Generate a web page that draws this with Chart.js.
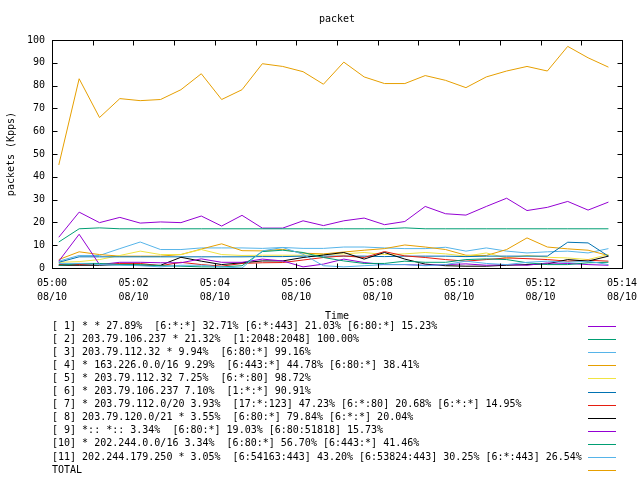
<!DOCTYPE html>
<html><head><meta charset="utf-8">
<script src="https://cdn.jsdelivr.net/npm/chart.js@4/dist/chart.umd.min.js"></script>
<style>html,body{margin:0;padding:0;background:#fff}</style>
</head><body>
<canvas id="c" width="640" height="480" style="width:640px;height:480px;display:block"></canvas>
<script>
// ---- data ----
const sampleTimes = ["05:00:10","05:00:40","05:01:10","05:01:40","05:02:10","05:02:40","05:03:10","05:03:40","05:04:10","05:04:40",
  "05:05:10","05:05:40","05:06:10","05:06:40","05:07:10","05:07:40","05:08:10","05:08:40","05:09:10","05:09:40",
  "05:10:10","05:10:40","05:11:10","05:11:40","05:12:10","05:12:40","05:13:10","05:13:40"];
const seriesNames = [
  "[ 1] * * 27.89%  [6:*:*] 32.71% [6:*:443] 21.03% [6:80:*] 15.23%",
  "[ 2] 203.79.106.237 * 21.32%  [1:2048:2048] 100.00%",
  "[ 3] 203.79.112.32 * 9.94%  [6:80:*] 99.16%",
  "[ 4] * 163.226.0.0/16 9.29%  [6:443:*] 44.78% [6:80:*] 38.41%",
  "[ 5] * 203.79.112.32 7.25%  [6:*:80] 98.72%",
  "[ 6] * 203.79.106.237 7.10%  [1:*:*] 90.91%",
  "[ 7] * 203.79.112.0/20 3.93%  [17:*:123] 47.23% [6:*:80] 20.68% [6:*:*] 14.95%",
  "[ 8] 203.79.120.0/21 * 3.55%  [6:80:*] 79.84% [6:*:*] 20.04%",
  "[ 9] *:: *:: 3.34%  [6:80:*] 19.03% [6:80:51818] 15.73%",
  "[10] * 202.244.0.0/16 3.34%  [6:80:*] 56.70% [6:443:*] 41.46%",
  "[11] 202.244.179.250 * 3.05%  [6:54163:443] 43.20% [6:53824:443] 30.25% [6:*:443] 26.54%",
  "TOTAL"
];
const s01 = [13.5,24.5,19.9,22.2,19.7,20.2,19.9,22.8,18.4,23.1,17.5,17.5,20.7,18.6,20.7,21.9,19.0,20.4,27.0,23.8,23.2,27.0,30.6,25.2,26.6,29.2,25.4,28.9];
const s02 = [11.4,17.2,17.6,17.2,17.2,17.2,17.2,17.2,17.2,17.2,17.2,17.2,17.2,17.2,17.2,17.2,17.2,17.6,17.2,17.2,17.2,17.2,17.2,17.2,17.2,17.2,17.2,17.2];
const s03 = [3.0,5.5,5.5,8.5,11.4,8.1,8.1,8.8,8.8,8.8,8.6,9.0,8.6,8.6,9.2,9.2,8.8,8.5,8.5,9.1,7.4,8.8,7.4,6.6,7.1,7.4,6.6,8.5];
const s04 = [3.7,7.1,5.9,5.2,5.2,5.2,5.9,8.3,10.6,7.6,7.5,8.2,6.5,6.2,7.0,7.8,8.5,10.1,9.2,8.1,5.6,5.5,8.1,13.2,9.2,8.4,7.8,5.5];
const s05 = [2.5,2.8,3.7,5.5,7.4,5.9,5.9,8.1,5.9,5.5,5.6,5.6,5.6,5.9,6.2,6.8,5.9,6.2,6.8,6.2,5.2,6.6,4.4,5.5,4.7,4.4,3.7,5.9];
const s06 = [2.5,4.9,4.9,4.9,4.9,4.9,4.9,4.9,4.9,4.9,5.0,5.0,5.2,5.2,5.2,5.2,5.0,5.2,5.2,5.2,5.0,5.2,5.2,5.2,5.2,11.3,11.0,5.2];
const s07 = [1.5,1.5,1.5,2.0,2.0,1.0,2.5,1.5,0.8,2.0,2.3,2.4,3.5,4.6,5.3,4.6,7.2,5.3,4.6,3.7,3.0,3.7,4.4,4.1,3.7,3.0,3.4,3.0];
const s08 = [1.2,1.2,1.2,1.5,1.2,1.2,4.7,3.0,1.5,2.3,3.1,3.1,4.6,5.7,6.8,3.9,6.8,3.9,1.7,1.0,0.8,0.8,1.2,1.5,1.8,3.7,3.0,5.2];
const s09 = [3.0,14.8,1.5,2.5,2.5,2.3,2.3,4.0,2.5,2.5,3.9,3.1,0.5,1.7,3.9,2.4,1.5,1.5,1.2,1.5,1.8,1.2,1.5,1.2,2.2,2.0,1.5,1.2];
const s10 = [1.1,2.0,2.0,1.5,1.5,1.0,0.8,0.5,0.5,1.0,7.2,7.8,6.8,4.6,3.1,2.0,2.0,3.0,2.5,2.5,3.7,4.0,3.7,2.3,1.5,1.5,2.3,2.5];
const s11 = [2.0,2.0,1.5,1.2,1.0,0.5,1.2,1.2,0.5,0.0,7.5,9.0,6.0,1.0,0.5,1.0,1.5,1.5,1.0,1.5,3.0,2.0,1.5,2.5,3.0,2.5,3.0,1.5];
const total = [45.2,83.0,66.0,74.3,73.4,73.9,78.2,85.2,73.9,78.2,89.6,88.4,86.1,80.6,90.3,83.8,80.9,80.9,84.4,82.3,79.1,83.8,86.4,88.4,86.4,97.2,92.2,88.1];
const xTickLabels = ["05:00","05:02","05:04","05:06","05:08","05:10","05:12","05:14"];
const xDateLabel = "08/10";
const yTicks = [0,10,20,30,40,50,60,70,80,90,100];
const seriesColors = ["#9400D3","#009E73","#56B4E9","#E69F00","#F0E442","#0072B2","#E51E10","#000000","#9400D3","#009E73","#56B4E9","#E69F00"];

// ---- build ----
const allSeries = [s01,s02,s03,s04,s05,s06,s07,s08,s09,s10,s11,total];
const toMin = t => { const p = t.split(':').map(Number); return (p[0]-5)*60 + p[1] + p[2]/60; };
const xs = sampleTimes.map(toMin);
const FONT = "'DejaVu Sans Mono', 'Liberation Mono', monospace";

const datasets = allSeries.map((arr, i) => ({
  label: seriesNames[i],
  data: arr.map((v, k) => ({x: xs[k], y: v})),
  borderColor: seriesColors[i],
  backgroundColor: seriesColors[i],
  borderWidth: 1,
  pointRadius: 0,
  tension: 0,
  fill: false,
  order: allSeries.length - i
}));

const framePlugin = {
  id: 'frame',
  afterDraw(chart) {
    const {ctx, chartArea: a, scales: {x, y}} = chart;
    ctx.save();
    ctx.strokeStyle = '#000';
    ctx.lineWidth = 1;
    const L = Math.round(a.left) + 0.5, R = Math.round(a.right) + 0.5;
    const T = Math.round(a.top) + 0.5, B = Math.round(a.bottom) + 0.5;
    ctx.strokeRect(L, T, R - L, B - T);
    ctx.beginPath();
    x.ticks.forEach(t => {
      const px = Math.round(x.getPixelForValue(t.value)) + 0.5;
      ctx.moveTo(px, B); ctx.lineTo(px, B - 5);
      ctx.moveTo(px, T); ctx.lineTo(px, T + 5);
    });
    yTicks.forEach(v => {
      const py = Math.round(y.getPixelForValue(v)) + 0.5;
      ctx.moveTo(L, py); ctx.lineTo(L + 5, py);
      ctx.moveTo(R, py); ctx.lineTo(R - 5, py);
    });
    ctx.stroke();
    // key
    ctx.font = "10px " + FONT;
    ctx.textBaseline = 'middle';
    ctx.textAlign = 'left';
    chart.data.datasets.forEach((ds, i) => {
      const yy = 326 + i * 13.1;
      ctx.fillStyle = '#000';
      ctx.fillText(ds.label, 52, yy);
      ctx.strokeStyle = ds.borderColor;
      ctx.beginPath();
      const ly = Math.round(yy) + 0.5;
      ctx.moveTo(588, ly); ctx.lineTo(616, ly);
      ctx.stroke();
    });
    ctx.restore();
  }
};

new Chart(document.getElementById('c'), {
  type: 'line',
  data: { datasets },
  plugins: [framePlugin],
  options: {
    responsive: false,
    animation: false,
    events: [],
    layout: { padding: { left: 0, right: 18, top: 0, bottom: 158 } },
    plugins: {
      legend: { display: false },
      tooltip: { enabled: false },
      title: {
        display: true, text: 'packet', color: '#000', fullSize: false,
        font: { family: FONT, size: 10, weight: 'normal', lineHeight: 1.2 },
        padding: { top: 13, bottom: 15 }
      }
    },
    scales: {
      x: {
        type: 'linear', min: 0, max: 14,
        grid: { display: false, drawTicks: false },
        border: { display: false },
        afterFit: s => { s.height = 54; s.paddingLeft = 0; s.paddingRight = 0; },
        ticks: {
          stepSize: 1, autoSkip: false, maxRotation: 0, padding: 8, color: '#000',
          font: { family: FONT, size: 10, lineHeight: 1.4 },
          callback: v => (v % 2 === 0) ? [xTickLabels[v / 2], xDateLabel] : ''
        },
        title: { display: true, text: 'Time', color: '#000', padding: { top: 0, bottom: 0 },
          font: { family: FONT, size: 10, lineHeight: 1.2 } }
      },
      y: {
        min: 0, max: 100,
        grid: { display: false, drawTicks: false },
        border: { display: false },
        afterFit: s => { s.width = 52; },
        ticks: { stepSize: 10, padding: 7, color: '#000', font: { family: FONT, size: 10 } },
        title: { display: true, text: 'packets (Kpps)', color: '#000', padding: { top: 5, bottom: 0 },
          font: { family: FONT, size: 10, lineHeight: 1.2 } }
      }
    }
  }
});
</script>
</body></html>
